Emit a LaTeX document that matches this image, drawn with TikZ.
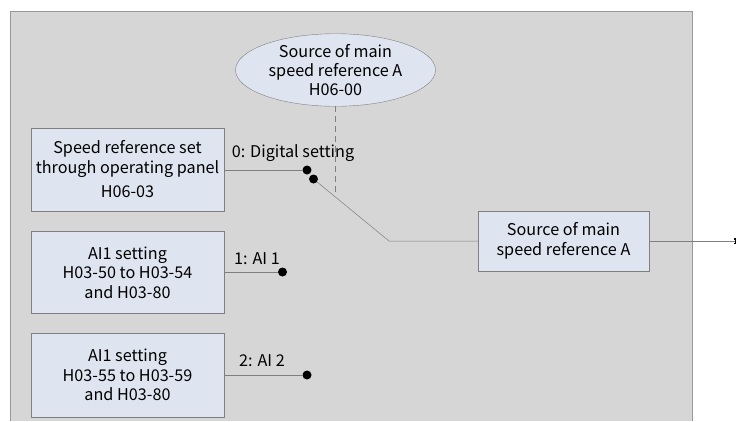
\documentclass[tikz,border=0pt]{standalone}
\usepackage{fontspec}
\setmainfont{Noto Sans CJK SC}
\usepackage{xcolor}
\usetikzlibrary{shapes.geometric,arrows.meta}
\definecolor{panelgray}{HTML}{D6D6D6}
\definecolor{boxblue}{HTML}{DEE5F0}
\definecolor{linegray}{HTML}{7F7F7F}

\begin{document}
\begin{tikzpicture}[x=1pt,y=-1pt,
    setbox/.style={draw=linegray,fill=boxblue,align=center,inner sep=0pt,
      minimum width=193pt,minimum height=#1,font=\fontsize{16.2}{19.5}\selectfont},
    setbox/.default=82pt,
    dot/.style={circle,fill=black,inner sep=0pt,minimum size=9pt},
    wire/.style={draw=linegray,line width=0.7pt},
    lbl/.style={font=\fontsize{16.2}{19}\selectfont}]
      \useasboundingbox (0,0) rectangle (738,421);
      \fill[panelgray] (10,11) rectangle (692,421);
      \draw[linegray!80,line width=0.8pt] (10,421) -- (10,11) -- (692,11) -- (692,421);
      % source selector
      \node[ellipse,draw=linegray,fill=boxblue,inner sep=0pt,minimum width=200pt,minimum height=68pt,
        align=center,font=\fontsize{16.2}{19}\selectfont] (src) at (335.5,70)
        {Source of main\\speed reference A\\H06-00};
      % input settings
      \node[setbox=83pt] (panel) at (127.5,169.5)
        {Speed reference set\\through operating panel\\[5pt]H06-03};
      \node[setbox] (ai1) at (127.5,272.5) {AI1 setting\\H03-50 to H03-54\\and H03-80};
      \node[setbox=84pt] (ai2) at (127.5,375) {AI1 setting\\H03-55 to H03-59\\and H03-80};
      % output
      \node[setbox=60pt,minimum width=171pt] (out) at (563.5,241) {Source of main\\speed reference A};
      % switch contacts
      \node[dot] (d0) at (307,170) {};
      \node[dot] (d1) at (313.5,179) {};
      \node[dot] (d2) at (282.5,272) {};
      \node[dot] (d3) at (307,375) {};
      \coordinate (bend) at (389,241);
      \coordinate (dashend) at (335.5,193);
      \coordinate (outend) at (736,241);
      \draw[wire] (panel.east |- d0) -- (d0);
      \draw[wire] (ai1.east |- d2) -- (d2);
      \draw[wire] (ai2.east |- d3) -- (d3);
      \draw[wire,line width=0.5pt] (d1) -- (bend) -- (out.west |- bend);
      \draw[wire,dash pattern=on 6pt off 4pt] (src.south) -- (dashend);
      \draw[wire,-{Bracket[width=6pt,line width=1.5pt,black]}] (out.east |- outend) -- (outend);
      \node[lbl] at (293,153) {0: Digital setting};
      \node[lbl] at (257,259) {1: AI 1};
      \node[lbl] at (262,361) {2: AI 2};
\end{tikzpicture}
\end{document}
